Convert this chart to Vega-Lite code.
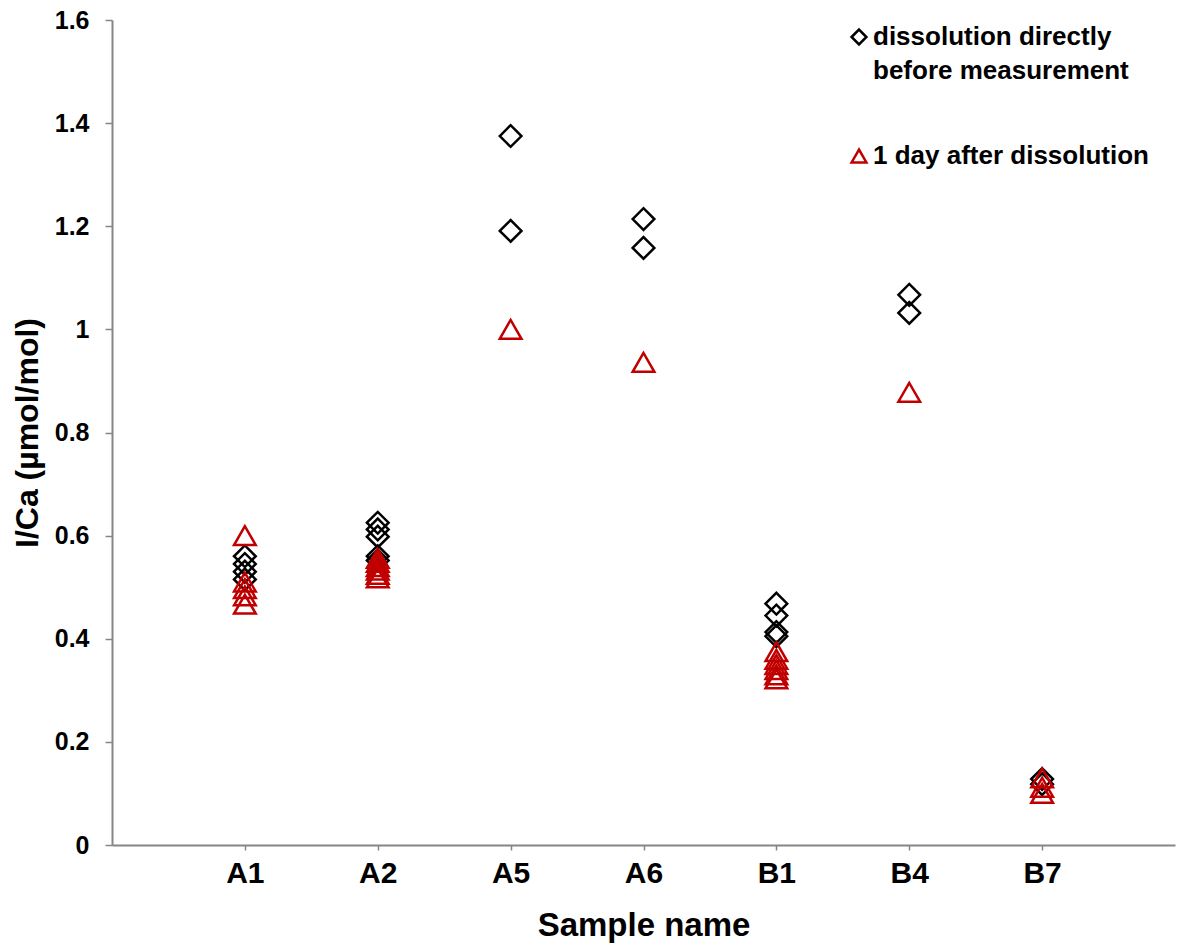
{
  "$schema": "https://vega.github.io/schema/vega-lite/v6.json",
  "autosize": {"type": "none"},
  "padding": {"left": 112, "top": 20, "right": 5, "bottom": 100},
  "width": 1063,
  "height": 825,
  "background": "white",
  "config": {
    "view": {"stroke": null},
    "font": "Liberation Sans",
    "style": {"guide-label": {"lineHeight": 34}},
    "axis": {"grid": false, "domainColor": "#868686", "domainWidth": 2, "tickColor": "#868686", "tickWidth": 1.5, "labelFont": "Liberation Sans", "titleFont": "Liberation Sans", "labelFontWeight": "bold", "titleFontWeight": "bold", "labelColor": "black", "titleColor": "black"}
  },
  "data": {
    "values": [
      {"sample": "A1", "series": "dissolution directly before measurement", "ICa": 0.56},
      {"sample": "A1", "series": "dissolution directly before measurement", "ICa": 0.545},
      {"sample": "A1", "series": "dissolution directly before measurement", "ICa": 0.53},
      {"sample": "A1", "series": "dissolution directly before measurement", "ICa": 0.515},
      {"sample": "A2", "series": "dissolution directly before measurement", "ICa": 0.625},
      {"sample": "A2", "series": "dissolution directly before measurement", "ICa": 0.612},
      {"sample": "A2", "series": "dissolution directly before measurement", "ICa": 0.598},
      {"sample": "A2", "series": "dissolution directly before measurement", "ICa": 0.56},
      {"sample": "A2", "series": "dissolution directly before measurement", "ICa": 0.552},
      {"sample": "A5", "series": "dissolution directly before measurement", "ICa": 1.375},
      {"sample": "A5", "series": "dissolution directly before measurement", "ICa": 1.191},
      {"sample": "A6", "series": "dissolution directly before measurement", "ICa": 1.214},
      {"sample": "A6", "series": "dissolution directly before measurement", "ICa": 1.158},
      {"sample": "B1", "series": "dissolution directly before measurement", "ICa": 0.468},
      {"sample": "B1", "series": "dissolution directly before measurement", "ICa": 0.445},
      {"sample": "B1", "series": "dissolution directly before measurement", "ICa": 0.413},
      {"sample": "B1", "series": "dissolution directly before measurement", "ICa": 0.405},
      {"sample": "B4", "series": "dissolution directly before measurement", "ICa": 1.067},
      {"sample": "B4", "series": "dissolution directly before measurement", "ICa": 1.032},
      {"sample": "B7", "series": "dissolution directly before measurement", "ICa": 0.128},
      {"sample": "B7", "series": "dissolution directly before measurement", "ICa": 0.118},
      {"sample": "A1", "series": "1 day after dissolution", "ICa": 0.6},
      {"sample": "A1", "series": "1 day after dissolution", "ICa": 0.51},
      {"sample": "A1", "series": "1 day after dissolution", "ICa": 0.497},
      {"sample": "A1", "series": "1 day after dissolution", "ICa": 0.483},
      {"sample": "A1", "series": "1 day after dissolution", "ICa": 0.467},
      {"sample": "A2", "series": "1 day after dissolution", "ICa": 0.556},
      {"sample": "A2", "series": "1 day after dissolution", "ICa": 0.548},
      {"sample": "A2", "series": "1 day after dissolution", "ICa": 0.54},
      {"sample": "A2", "series": "1 day after dissolution", "ICa": 0.533},
      {"sample": "A2", "series": "1 day after dissolution", "ICa": 0.525},
      {"sample": "A2", "series": "1 day after dissolution", "ICa": 0.518},
      {"sample": "A5", "series": "1 day after dissolution", "ICa": 1.0},
      {"sample": "A6", "series": "1 day after dissolution", "ICa": 0.936},
      {"sample": "B1", "series": "1 day after dissolution", "ICa": 0.375},
      {"sample": "B1", "series": "1 day after dissolution", "ICa": 0.36},
      {"sample": "B1", "series": "1 day after dissolution", "ICa": 0.35},
      {"sample": "B1", "series": "1 day after dissolution", "ICa": 0.34},
      {"sample": "B1", "series": "1 day after dissolution", "ICa": 0.33},
      {"sample": "B1", "series": "1 day after dissolution", "ICa": 0.322},
      {"sample": "B4", "series": "1 day after dissolution", "ICa": 0.878},
      {"sample": "B7", "series": "1 day after dissolution", "ICa": 0.13},
      {"sample": "B7", "series": "1 day after dissolution", "ICa": 0.112},
      {"sample": "B7", "series": "1 day after dissolution", "ICa": 0.1}
    ]
  },
  "mark": {"type": "point", "filled": false, "strokeWidth": 2.5, "opacity": 1, "size": 470},
  "encoding": {
    "x": {
      "field": "sample", "type": "nominal", "sort": null,
      "scale": {"type": "point", "padding": 1},
      "axis": {"title": "Sample name", "labelAngle": 0, "labelFontSize": 30, "titleFontSize": 33, "labelPadding": 8, "titlePadding": 21, "tickSize": 5}
    },
    "y": {
      "field": "ICa", "type": "quantitative",
      "scale": {"domain": [0, 1.6], "nice": false},
      "axis": {"title": "I/Ca (µmol/mol)", "format": "~g", "values": [0, 0.2, 0.4, 0.6, 0.8, 1, 1.2, 1.4, 1.6], "labelFontSize": 25, "titleFontSize": 32, "tickSize": 7, "labelPadding": 16, "titlePadding": 10}
    },
    "shape": {
      "field": "series", "type": "nominal",
      "scale": {"domain": ["dissolution directly before measurement", "1 day after dissolution"], "range": ["diamond", "triangle-up"]},
      "legend": {
        "title": null, "orient": "none", "legendX": 734, "legendY": 4,
        "padding": 0, "symbolSize": 220, "symbolStrokeWidth": 2.5,
        "labelFont": "Liberation Sans", "labelFontWeight": "bold", "labelFontSize": 26, "labelColor": "black",
        "labelLimit": 500, "labelOffset": 1, "rowPadding": 59,
        "labelExpr": "datum.label == 'dissolution directly before measurement' ? ['dissolution directly', 'before measurement'] : datum.label"
      }
    },
    "color": {
      "field": "series", "type": "nominal",
      "scale": {"domain": ["dissolution directly before measurement", "1 day after dissolution"], "range": ["#000000", "#C00000"]}
    }
  }
}
